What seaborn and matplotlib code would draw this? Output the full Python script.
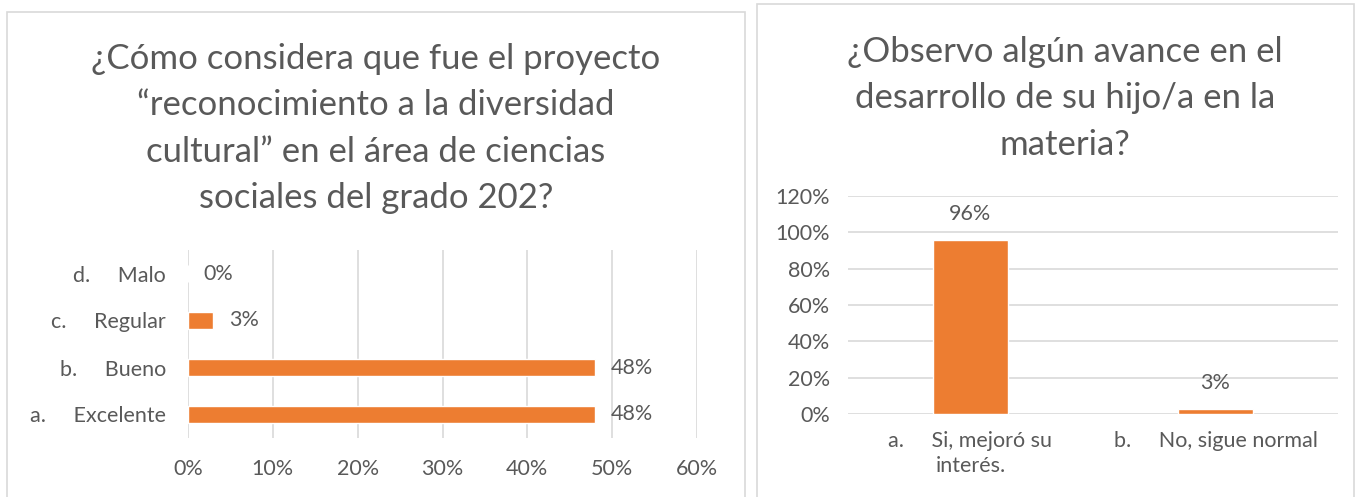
import matplotlib
matplotlib.use("Agg")
import matplotlib.pyplot as plt
import seaborn as sns
from matplotlib.patches import Rectangle

# data
left_cats = ["a.     Excelente", "b.     Bueno", "c.     Regular", "d.     Malo"]
left_vals = [48, 48, 3, 0]
left_ticks = [0, 10, 20, 30, 40, 50, 60]
left_title = ("¿Cómo considera que fue el proyecto\n“reconocimiento a la diversidad\n"
              "cultural” en el área de ciencias\nsociales del grado 202?")

right_cats = ["a.     Si, mejoró su\ninterés.", "b.     No, sigue normal"]
right_vals = [96, 3]
right_ticks = [0, 20, 40, 60, 80, 100, 120]
right_title = "¿Observo algún avance en el\ndesarrollo de su hijo/a en la\nmateria?"

ORANGE = "#ED7D31"
TEXT = "#595959"
GRID = "#D9D9D9"
FS = 15.5

sns.set_theme(style="white")
plt.rcParams["font.family"] = ["Lato", "DejaVu Sans"]

W, H = 1359, 497
fig = plt.figure(figsize=(W / 100, H / 100), dpi=100)

# panel borders
fig.patches.append(Rectangle((7 / W, -0.01), 738 / W, 1 - 12 / H + 0.01,
                             transform=fig.transFigure, fill=False,
                             edgecolor=GRID, lw=1.2))
fig.patches.append(Rectangle((757 / W, -0.01), 597 / W, 1 - 4 / H + 0.01,
                             transform=fig.transFigure, fill=False,
                             edgecolor=GRID, lw=1.2))

# ---------- left chart ----------
ax1 = fig.add_axes([188 / W, 1 - 438 / H, 509 / W, 188 / H])
sns.barplot(x=left_vals, y=left_cats, order=left_cats[::-1], orient="h",
            color=ORANGE, width=0.36, saturation=1, ax=ax1)
ax1.set_xlim(0, 60)
ax1.set_xticks(left_ticks)
ax1.set_xticklabels([f"{t}%" for t in left_ticks])
ax1.xaxis.grid(True, color=GRID, lw=1.2)
ax1.set_axisbelow(True)
sns.despine(ax=ax1, left=True, bottom=True)
ax1.tick_params(axis="x", length=0, pad=15, labelsize=FS, labelcolor=TEXT)
ax1.tick_params(axis="y", length=0, pad=16, labelsize=FS, labelcolor=TEXT)
ax1.set_xlabel("")
ax1.set_ylabel("")
ax1.bar_label(ax1.containers[0], labels=[f"{v}%" for v in left_vals[::-1]],
              padding=11, fontsize=FS, color=TEXT)
fig.text(376 / W, 1 - 43 / H, left_title, ha="center", va="top",
         fontsize=25, color=TEXT, linespacing=1.55)

# ---------- right chart ----------
ax2 = fig.add_axes([848 / W, 1 - 414 / H, 490 / W, 218 / H])
sns.barplot(x=right_cats, y=right_vals, color=ORANGE, width=0.31,
            saturation=1, ax=ax2)
ax2.set_ylim(0, 120)
ax2.set_yticks(right_ticks)
ax2.set_yticklabels([f"{t}%" for t in right_ticks])
ax2.yaxis.grid(True, color=GRID, lw=1.2)
ax2.set_axisbelow(True)
sns.despine(ax=ax2, left=True, bottom=True)
ax2.tick_params(axis="x", length=0, pad=12, labelsize=FS, labelcolor=TEXT)
ax2.tick_params(axis="y", length=0, pad=13, labelsize=FS, labelcolor=TEXT)
for lab in ax2.get_xticklabels():
    lab.set_linespacing(1.35)
ax2.set_xlabel("")
ax2.set_ylabel("")
ax2.bar_label(ax2.containers[0], labels=[f"{v}%" for v in right_vals],
              padding=11, fontsize=FS, color=TEXT)
fig.text(1065 / W, 1 - 36 / H, right_title, ha="center", va="top",
         fontsize=25, color=TEXT, linespacing=1.55)

fig.savefig("out.png", dpi=100)
